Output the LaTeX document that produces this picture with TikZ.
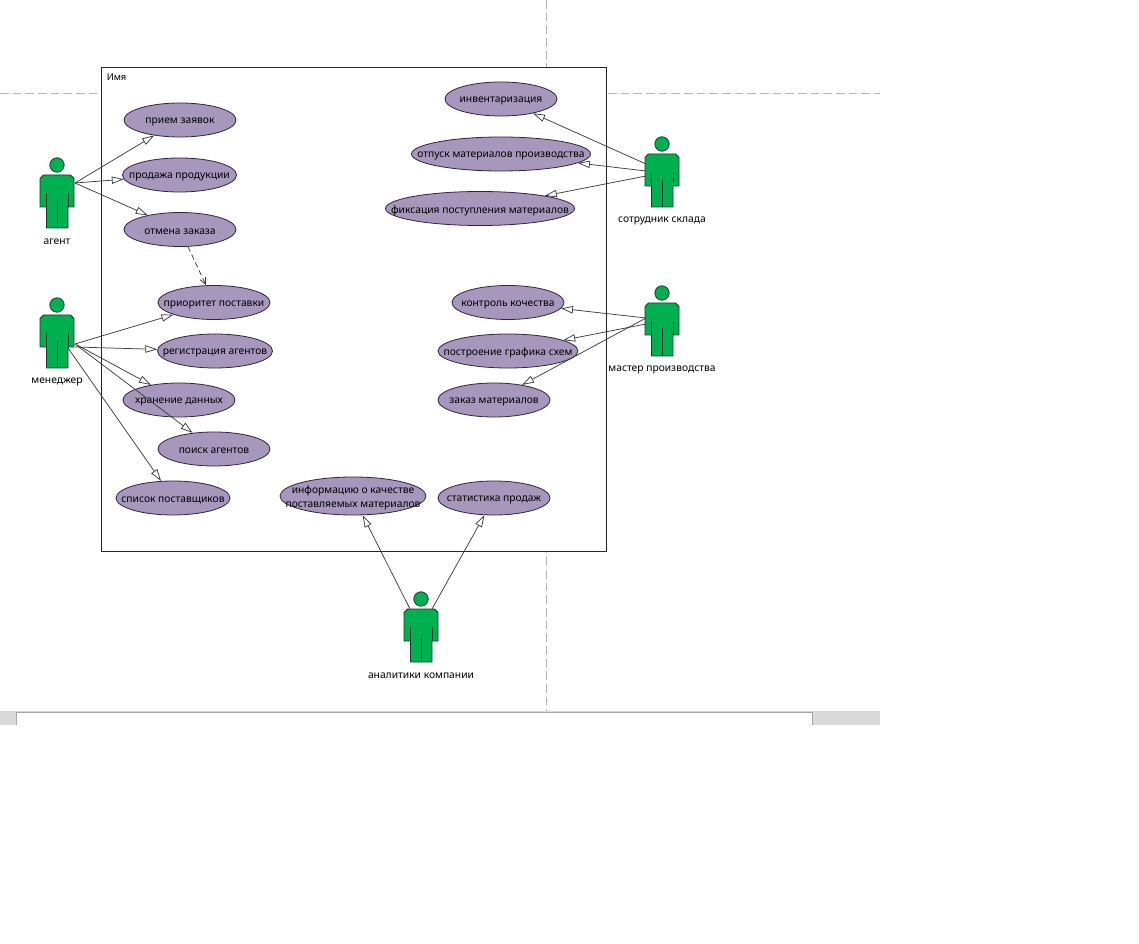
\documentclass[tikz,border=0pt]{standalone}
\usepackage{fontspec}
\setmainfont{Noto Sans}
\usetikzlibrary{arrows.meta,shapes.geometric}
\definecolor{ucfill}{HTML}{A897BD}
\definecolor{ucline}{HTML}{2F2440}
\definecolor{actgreen}{HTML}{00B050}
\definecolor{actline}{HTML}{1F3B2A}
\definecolor{guide}{HTML}{B4B4B4}
\definecolor{band}{HTML}{D9D9D9}
\definecolor{bandline}{HTML}{A6A6A6}
\definecolor{conn}{HTML}{3C3C3C}
\tikzset{
  lbl/.style={font=\fontsize{7.7pt}{10.5pt}\selectfont,text=black,inner sep=0pt,align=center},
  uc/.style={ellipse,draw=ucline,fill=ucfill,line width=.6pt,inner sep=0pt,minimum height=25.5pt},
  gen/.style={draw=conn,line width=.55pt,-{Triangle[open,fill=white,length=9pt,width=5.5pt]}},
  dep/.style={draw=conn,line width=.55pt,dash pattern=on 4pt off 2.5pt,-{Straight Barb[length=5pt,width=4.5pt]}},
  actbody/.style={draw=actline,fill=actgreen,line width=.6pt},
  actin/.style={draw=actline,line width=.75pt},
  guideln/.style={draw=guide,line width=.6pt,dash pattern=on 6.5pt off 3pt},
}
\newcommand{\actor}[4]{%
  \draw[actbody] (#2-13.5,#3) -- (#2+13.5,#3) -- (#2+17,#3+3.5) -- (#2+17,#3+32) -- (#2+11,#3+32)
    -- (#2+11,#3+53) -- (#2-10.5,#3+53) -- (#2-10.5,#3+32) -- (#2-17,#3+32) -- (#2-17,#3+3.5) -- cycle;
  \draw[actin] (#2-10.5,#3+18) -- (#2-10.5,#3+32) (#2+11,#3+18) -- (#2+11,#3+32) (#2,#3+25) -- (#2,#3+53);
  \node[circle,actbody,minimum size=10.8pt,inner sep=0pt] (#1head) at (#2,#3-10) {};
  \node[lbl] (#1label) at (#2,#3+67) {#4};
}
\newcommand{\usecase}[6][25.5]{%
  \node[uc,minimum width=#5*.75pt,minimum height=#1*1pt,label={[lbl,yshift=-1.6pt]center:#6}] (#2) at (#3,#4) {};
}
\begin{document}
\begin{tikzpicture}[x=.75pt,y=-.75pt]
\useasboundingbox[fill=white] (0,0) rectangle (1139,944);
% page guides and ruler band
\draw[guideln] (546,0) -- (546,711);
\draw[guideln] (0,93.5) -- (880,93.5);
\fill[band] (0,711) rectangle (880,724.5);
\fill[white] (16.5,712.5) rectangle (812.5,724.5);
\draw[bandline,line width=.75pt] (16.5,724.5) -- (16.5,712.5) -- (812.5,712.5) -- (812.5,724.5);
% system frame
\node[draw=black!85,fill=white,line width=.6pt,minimum width=505*.75pt,minimum height=484*.75pt,inner sep=0pt] (frame) at (353.5,309) {};
\node[font=\fontsize{7pt}{8pt}\selectfont,inner sep=0pt,anchor=west] (framename) at (106.5,77.5) {Имя};
% use cases
\usecase{priem}{180}{120}{112}{прием заявок}
\usecase{prodazha}{179.5}{175}{114}{продажа продукции}
\usecase{otmena}{180}{229.5}{112}{отмена заказа}
\usecase{prioritet}{214}{302.5}{112}{приоритет поставки}
\usecase{registr}{215}{351}{115}{регистрация агентов}
\usecase{hranenie}{179}{400}{112}{хранение данных}
\usecase{poisk}{214}{449}{112}{поиск агентов}
\usecase{spisok}{173}{498}{114}{список поставщиков}
\usecase[28.5]{info}{353}{496}{146}{информацию о качестве\\поставляемых материалов}
\usecase{stat}{494}{498}{112}{статистика продаж}
\usecase{invent}{501}{99}{112}{инвентаризация}
\usecase{otpusk}{501}{154}{179}{отпуск материалов производства}
\usecase{fiks}{480}{208.5}{189}{фиксация поступления материалов}
\usecase{kontrol}{508}{302.5}{112}{контроль кочества}
\usecase{postr}{508}{351}{140}{построение графика схем}
\usecase{zakaz}{494}{400}{112}{заказ материалов}
% actors
\actor{agent}{57}{175}{агент}
\actor{manager}{57}{315}{менеджер}
\actor{sklad}{662}{154}{сотрудник склада}
\actor{master}{662}{303}{мастер производства}
\actor{analit}{421}{609}{аналитики компании}
% connector start points
\coordinate (agentA) at (75,183);
\coordinate (managerA) at (75,344);
\coordinate (managerB) at (75,347);
\coordinate (managerC) at (77,345);
\coordinate (managerD) at (68,348);
\coordinate (skladA) at (646,164);
\coordinate (skladB) at (646,171);
\coordinate (skladC) at (646,176);
\coordinate (masterA) at (646,318);
\coordinate (masterB) at (646,324);
\coordinate (analitA) at (410,609);
\coordinate (analitB) at (432,609);
% connectors
\draw[gen] (agentA) -- (priem);
\draw[gen] (agentA) -- (prodazha);
\draw[gen] (agentA) -- (otmena);
\draw[dep] (otmena) -- (prioritet);
\draw[gen] (managerA) -- (prioritet);
\draw[gen] (managerB) -- (registr);
\draw[gen] (managerC) -- (hranenie);
\draw[gen] (managerA) -- (poisk);
\draw[gen] (managerD) -- (spisok);
\draw[gen] (skladA) -- (invent);
\draw[gen] (skladB) -- (otpusk);
\draw[gen] (skladC) -- (fiks);
\draw[gen] (masterA) -- (kontrol);
\draw[gen] (masterB) -- (postr);
\draw[gen] (masterA) -- (zakaz);
\draw[gen] (analitA) -- (info);
\draw[gen] (analitB) -- (stat);
\end{tikzpicture}
\end{document}
